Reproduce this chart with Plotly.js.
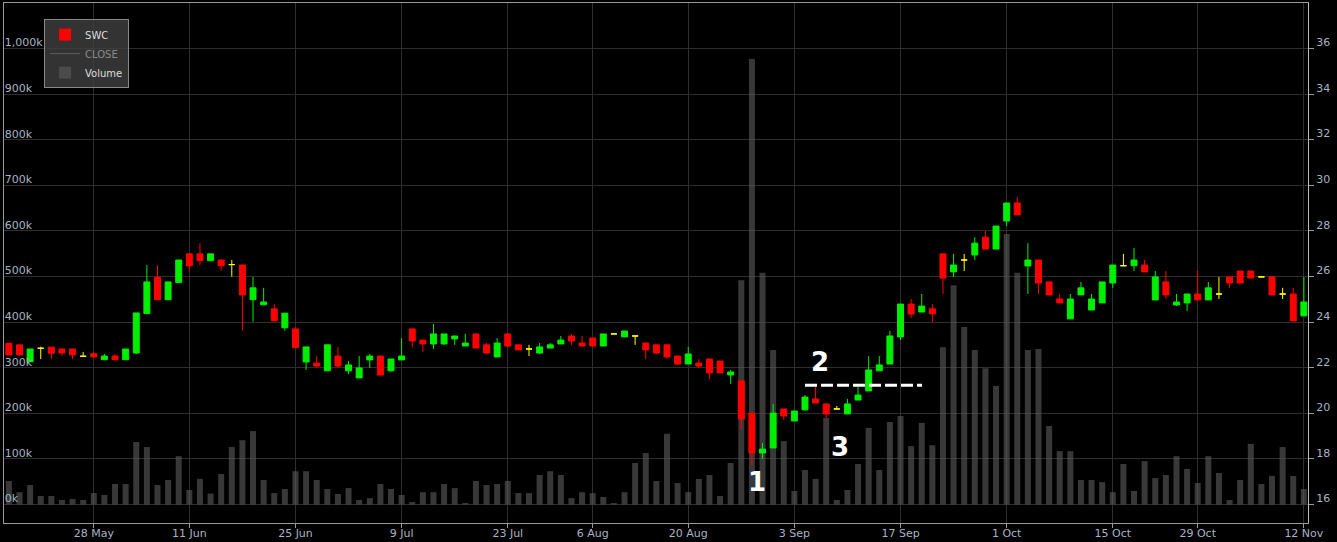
<!DOCTYPE html>
<html>
<head>
<meta charset="utf-8">
<script src="https://cdn.plot.ly/plotly-3.0.1.min.js"></script>
<style>
html,body{margin:0;padding:0;background:#000;}
#chart{width:1337px;height:542px;}
</style>
</head>
<body>
<div id="chart"></div>
<script>
// ---- data ----
const opens = [
 23.07,23.0,22.26,22.85,22.9,22.82,22.82,22.5,22.61,22.35,
 22.51,22.35,22.64,24.37,25.96,24.98,25.73,26.99,26.99,26.69,
 26.72,26.52,26.5,24.98,24.76,24.58,23.75,23.7,22.25,22.2,
 21.86,22.51,21.86,21.55,22.34,22.51,21.86,22.34,23.7,23.21,
 23.04,23.04,23.26,22.95,23.48,23.0,22.47,23.48,23.0,22.82,
 22.64,22.86,23.04,23.39,23.08,23.3,22.95,23.48,23.35,23.39,
 23.08,23.0,23.0,22.51,22.16,22.2,22.38,22.29,21.68,21.42,
 20.01,18.26,18.48,20.19,19.66,20.15,20.63,20.41,20.19,19.97,
 20.58,20.98,21.86,22.16,23.35,24.79,24.44,24.58,26.99,26.2,
 26.72,26.94,27.72,27.2,28.43,29.22,26.46,26.72,25.76,25.01,
 24.14,25.19,24.53,24.84,25.71,26.47,26.47,26.5,24.97,25.76,
 24.75,24.84,25.23,24.97,25.23,25.98,26.24,26.24,25.98,25.98,
 25.23,25.23,24.27
];
const highs = [
 23.07,23.0,22.82,22.92,22.9,22.82,22.82,22.69,22.69,22.6,
 22.6,22.82,24.4,26.5,26.5,25.76,26.72,26.99,27.46,26.99,
 26.72,26.72,26.5,25.98,25.5,24.79,24.39,23.77,22.91,22.51,
 23.0,22.91,22.3,22.51,22.6,22.51,22.38,23.3,23.7,23.21,
 23.92,23.48,23.39,23.48,23.48,23.08,23.3,23.48,23.0,23.0,
 23.08,23.08,23.39,23.48,23.39,23.3,23.48,23.48,23.61,23.39,
 23.08,23.0,23.0,22.51,22.91,22.38,22.38,22.29,21.9,21.42,
 20.01,18.7,20.41,20.19,20.1,20.8,21.2,20.41,20.32,20.63,
 21.15,22.51,22.51,23.61,24.79,25.01,25.23,24.79,26.99,26.99,
 26.99,27.72,28.0,28.21,29.22,29.49,27.46,26.72,25.76,25.23,
 25.23,25.76,25.23,25.76,26.5,26.99,27.25,26.72,26.24,26.24,
 25.23,25.23,26.24,25.76,25.98,25.98,26.24,26.24,25.98,25.98,
 25.5,25.5,25.98
];
const lows = [
 22.56,22.53,22.26,22.38,22.38,22.53,22.38,22.5,22.47,22.35,
 22.35,22.35,22.6,24.37,24.98,24.98,25.73,26.25,26.5,26.69,
 26.25,25.99,23.62,24.02,24.76,24.02,23.62,22.88,21.9,21.99,
 21.86,21.99,21.72,21.55,21.99,21.68,21.82,22.34,22.91,22.69,
 22.82,23.0,23.0,22.95,22.86,22.6,22.47,22.91,22.78,22.51,
 22.6,22.86,23.04,23.0,22.95,22.91,22.95,23.48,23.35,23.0,
 22.38,22.6,22.38,22.12,22.16,21.99,21.5,21.77,21.29,19.31,
 17.73,18.0,18.48,19.71,19.66,20.1,20.45,19.79,20.19,19.97,
 20.58,20.98,21.86,22.16,23.21,24.18,24.44,24.0,25.23,25.97,
 26.24,26.72,27.2,27.2,28.21,28.7,25.23,25.23,25.19,24.84,
 24.14,25.19,24.53,24.84,25.5,26.47,26.24,26.2,24.97,25.01,
 24.7,24.49,24.97,24.97,25.01,25.5,25.71,25.93,25.98,25.19,
 25.01,24.05,24.27
];
const closes = [
 22.56,22.56,22.82,22.85,22.63,22.64,22.56,22.5,22.47,22.51,
 22.35,22.82,24.4,25.76,24.98,25.76,26.72,26.47,26.69,26.99,
 26.47,26.52,25.19,25.5,24.88,24.06,24.39,22.88,22.91,22.07,
 23.0,22.07,22.12,21.99,22.51,21.68,22.38,22.51,23.17,23.04,
 23.48,23.48,23.39,23.08,22.86,22.64,23.08,22.95,22.78,22.82,
 22.91,23.0,23.21,23.17,22.95,22.95,23.48,23.48,23.61,23.39,
 22.78,22.64,22.47,22.16,22.6,22.07,21.77,21.77,21.81,19.75,
 18.26,18.43,20.01,19.88,20.1,20.71,20.45,19.97,20.19,20.41,
 20.8,21.9,22.12,23.39,24.79,24.35,24.7,24.36,25.93,26.5,
 26.72,27.46,27.2,28.21,29.22,28.7,26.72,25.71,25.19,24.84,
 25.01,25.5,25.01,25.76,26.5,26.47,26.72,26.2,25.98,25.19,
 24.88,25.23,24.97,25.5,25.23,25.71,25.71,25.93,25.98,25.19,
 25.23,24.05,24.88
];
const volumes = [
 51500,27000,42800,18600,18600,9900,12000,9900,25000,20800,
 45000,45000,137000,126000,42800,53700,106000,31800,56000,24000,
 67000,126000,141000,161000,53700,25000,34000,73000,73000,53700,
 34000,23000,36000,9900,14000,45000,34000,20800,5500,27000,
 27000,45000,36000,3300,51500,42800,45000,51500,25000,25000,
 64700,73000,64700,14000,27000,25000,16400,3300,27000,91000,
 113000,51500,155000,47000,27000,56000,64700,18600,91000,492000,
 977000,508000,339000,139000,29600,75600,56000,190000,9900,31800,
 88800,168000,75600,181000,194000,128000,179000,130000,345000,481000,
 389000,339000,299000,260000,593000,508000,339000,341000,172000,117000,
 117000,53700,53700,49000,27000,88800,29600,95000,58000,64700,
 106000,78000,47000,106000,69000,9900,53700,133000,45000,62500,
 126000,62500,34000
];
// date tick labels, placed at the trading-day index where each falls
const dateTickIndex = [8,17,27,37,47,55,64,74,84,94,104,112,122];
const dateTickLabels = ['28 May','11 Jun','25 Jun','9 Jul','23 Jul','6 Aug','20 Aug','3 Sep','17 Sep','1 Oct','15 Oct','29 Oct','12 Nov'];
const volTickVals = [0,100000,200000,300000,400000,500000,600000,700000,800000,900000,1000000];
const volTickText = ['0k','100k','200k','300k','400k','500k','600k','700k','800k','900k','1,000k'];
// chart markings
const markLabels = ['1','2','3'];
const markIndex = [70.48, 76.46, 78.3];
const markPrice = [16.99, 22.23, 18.54];
const levelIndex = [75.0, 86.02];
const levelPrice = 21.23;

// ---- build ----
const idx = opens.map((_, i) => i);
const isDoji = i => opens[i] === closes[i];
const mainIdx = idx.filter(i => !isDoji(i));
const dojiIdx = idx.filter(isDoji);
const take = (arr, list) => list.map(i => arr[i]);

const GREEN = '#00ee00', RED = '#ff0000', YELLOW = '#ffff00';
const FONT = 'DejaVu Sans';
const tickFont = {family: FONT, size: 11, color: '#a9b3c1'};

const traces = [
  {type:'bar', name:'SWC', x:[null], y:[null], yaxis:'y2',
   marker:{color:RED}, hoverinfo:'skip'},
  {type:'scatter', mode:'lines', name:'CLOSE', x:idx, y:closes, yaxis:'y2',
   visible:'legendonly', line:{color:'#888', width:1}},
  {type:'bar', name:'Volume', x:idx, y:volumes, yaxis:'y',
   marker:{color:'rgba(90,90,90,0.62)', line:{width:0}}},
  {type:'candlestick', name:'SWC', showlegend:false, yaxis:'y2',
   x:mainIdx, open:take(opens, mainIdx), high:take(highs, mainIdx),
   low:take(lows, mainIdx), close:take(closes, mainIdx),
   whiskerwidth:0,
   increasing:{line:{color:GREEN, width:1}, fillcolor:GREEN},
   decreasing:{line:{color:RED, width:1}, fillcolor:RED}},
  {type:'candlestick', name:'SWC doji', showlegend:false, yaxis:'y2',
   x:dojiIdx, open:take(opens, dojiIdx), high:take(highs, dojiIdx),
   low:take(lows, dojiIdx), close:take(closes, dojiIdx),
   whiskerwidth:0,
   increasing:{line:{color:YELLOW, width:1}, fillcolor:YELLOW},
   decreasing:{line:{color:YELLOW, width:1}, fillcolor:YELLOW}}
];

const layout = {
  width:1337, height:542,
  paper_bgcolor:'#000', plot_bgcolor:'#000',
  margin:{l:4, r:29, t:3, b:19, pad:0},
  barmode:'overlay', bargap:0.435,
  boxgap:0.25, boxgroupgap:0.25,
  hovermode:false,
  xaxis:{
    type:'linear', range:[-0.46, 122.39], autorange:false,
    rangeslider:{visible:false},
    tickmode:'array', tickvals:dateTickIndex, ticktext:dateTickLabels,
    ticks:'outside', ticklen:4, tickwidth:1, tickcolor:'#999',
    ticklabelstandoff:-4,
    showgrid:true, gridcolor:'#2e2e2e', gridwidth:1,
    showline:true, linecolor:'#999', linewidth:1, mirror:true,
    zeroline:false, tickfont:tickFont
  },
  yaxis:{
    range:[-40570, 1099800], autorange:false,
    tickmode:'array', tickvals:volTickVals, ticktext:volTickText,
    ticks:'', ticklabelposition:'inside', ticklabelshift:-6,
    showgrid:true, gridcolor:'#2e2e2e', gridwidth:1,
    showline:true, linecolor:'#999', linewidth:1,
    zeroline:false, tickfont:tickFont
  },
  yaxis2:{
    overlaying:'y', side:'right',
    range:[15.189, 37.99], autorange:false,
    tick0:16, dtick:2,
    ticks:'outside', ticklen:5, tickwidth:1, tickcolor:'#999',
    ticklabelshift:-6,
    showgrid:false, zeroline:false,
    showline:true, linecolor:'#bbb', linewidth:1,
    tickfont:tickFont
  },
  showlegend:true,
  legend:{
    x:0.0307, y:0.969, xanchor:'left', yanchor:'top',
    bgcolor:'rgba(64,64,64,0.8)', bordercolor:'#888', borderwidth:1,
    font:{family:FONT, size:10, color:'#dddddd'},
    traceorder:'normal', itemclick:false, itemdoubleclick:false
  },
  shapes:[{
    type:'line', xref:'x', yref:'y2',
    x0:levelIndex[0], x1:levelIndex[1], y0:levelPrice, y1:levelPrice,
    line:{color:'#ffffff', width:3, dash:'12px,4px'}
  }],
  annotations: markLabels.map((t, i) => ({
    text:t, x:markIndex[i], y:markPrice[i], xref:'x', yref:'y2',
    showarrow:false, xanchor:'center', yanchor:'middle',
    font:{family:FONT, size:26, color:'#ffffff', weight:'bold'}
  }))
};

Plotly.newPlot('chart', traces, layout, {staticPlot:true, displayModeBar:false});
</script>
</body>
</html>
